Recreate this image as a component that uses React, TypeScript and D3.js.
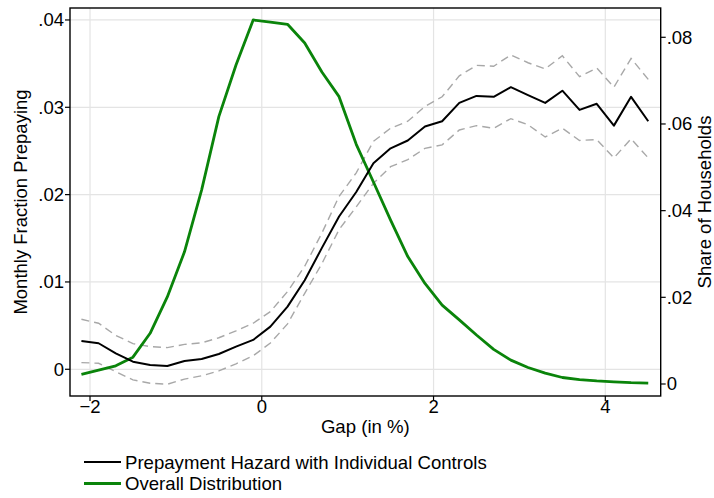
import * as d3 from "d3";

const gap = [
  -2.1, -1.9, -1.7, -1.5, -1.3, -1.1, -0.9, -0.7, -0.5, -0.3, -0.1, 0.1, 0.3,
  0.5, 0.7, 0.9, 1.1, 1.3, 1.5, 1.7, 1.9, 2.1, 2.3, 2.5, 2.7, 2.9, 3.1, 3.3,
  3.5, 3.7, 3.9, 4.1, 4.3, 4.5,
];

// monthly fraction prepaying (left axis)
const hazard = [
  0.00324, 0.00298, 0.00183, 0.00087, 0.00049, 0.00038, 0.00095, 0.00118,
  0.00175, 0.00259, 0.00336, 0.00488, 0.00717, 0.0102, 0.0139, 0.0175, 0.0203,
  0.0236, 0.0253, 0.0262, 0.0278, 0.0284, 0.0305, 0.0313, 0.0312, 0.0323,
  0.0314, 0.0305, 0.0319, 0.0297, 0.0304, 0.0279, 0.0312, 0.0284,
];
const upper = [
  0.00573, 0.00527, 0.00388, 0.00294, 0.00259, 0.00248, 0.00285, 0.00303,
  0.00361, 0.0044, 0.00527, 0.0066, 0.0089, 0.0118, 0.0156, 0.0198, 0.0225,
  0.0261, 0.0276, 0.0284, 0.0301, 0.0312, 0.0336, 0.0348, 0.0347, 0.036,
  0.0351, 0.0344, 0.0359, 0.0335, 0.0345, 0.0323, 0.0356, 0.0332,
];
const lower = [
  0.00076, 0.00069, -0.00027, -0.00122, -0.0016, -0.00172, -0.00112, -0.00075,
  -0.00018, 0.00062, 0.00155, 0.003, 0.0052, 0.0087, 0.0121, 0.016, 0.0186,
  0.0213, 0.0232, 0.024, 0.0253, 0.0257, 0.0274, 0.0279, 0.0276, 0.0287,
  0.028, 0.0266, 0.0276, 0.0262, 0.0263, 0.0242, 0.0264, 0.0242,
];

// share of households (right axis)
const share = [
  0.0022, 0.0032, 0.0042, 0.0062, 0.0117, 0.0201, 0.0305, 0.0448, 0.0617,
  0.0736, 0.084, 0.0835, 0.083, 0.0787, 0.072, 0.0663, 0.0553, 0.0466, 0.0378,
  0.0294, 0.0232, 0.0182, 0.0148, 0.0113, 0.008, 0.0055, 0.0038, 0.0025,
  0.0015, 0.001, 0.0007, 0.0005, 0.0003, 0.0002,
];

const xTicks = [-2, 0, 2, 4];
const xTickLabels = ["\u22122", "0", "2", "4"];
const leftTicks = [0, 0.01, 0.02, 0.03, 0.04];
const leftTickLabels = ["0", ".01", ".02", ".03", ".04"];
const rightTicks = [0, 0.02, 0.04, 0.06, 0.08];
const rightTickLabels = ["0", ".02", ".04", ".06", ".08"];

const legendItems = [
  { label: "Prepayment Hazard with Individual Controls", color: "#000" },
  { label: "Overall Distribution", color: "#0a840a" },
];

const W = 714;
const H = 498;
const left = 70;
const right = 660.7;
const top = 8;
const bottom = 396;
const font = "'Liberation Sans', Arial, Helvetica, sans-serif";

export default function App() {
  const x = d3.scaleLinear().domain([-2.233, 4.645]).range([left, right]);
  const yL = d3.scaleLinear().domain([-0.00306, 0.04137]).range([bottom, top]);
  const yR = d3.scaleLinear().domain([-0.00277, 0.08676]).range([bottom, top]);

  const lineL = (vals: number[]) =>
    d3
      .line<number>()
      .x((_, i) => x(gap[i]))
      .y((d) => yL(d))(vals) || "";
  const lineR = d3
    .line<number>()
    .x((_, i) => x(gap[i]))
    .y((d) => yR(d))(share) || "";

  return (
    <svg
      width={W}
      height={H}
      style={{ position: "absolute", left: 0, top: 0, background: "#fff" }}
      fontFamily={font}
    >
      <rect x={0} y={0} width={W} height={H} fill="#fff" />
      {/* grid */}
      {xTicks.map((t) => (
        <line key={"gx" + t} x1={x(t)} x2={x(t)} y1={top} y2={bottom} stroke="#e4e4e4" strokeWidth={1.2} />
      ))}
      {leftTicks.map((t) => (
        <line key={"gy" + t} x1={left} x2={right} y1={yL(t)} y2={yL(t)} stroke="#e4e4e4" strokeWidth={1.2} />
      ))}

      {/* confidence band */}
      {[upper, lower].map((vals, k) => (
        <path key={"ci" + k} d={lineL(vals)} fill="none" stroke="#a8a8a8" strokeWidth={1.4} strokeDasharray="8,5" />
      ))}
      <path d={lineR} fill="none" stroke="#0a840a" strokeWidth={2.8} strokeLinejoin="round" />
      <path d={lineL(hazard)} fill="none" stroke="#000" strokeWidth={2} strokeLinejoin="round" />

      {/* frame */}
      <rect x={left} y={top} width={right - left} height={bottom - top} fill="none" stroke="#000" strokeWidth={1.4} />

      {/* x axis */}
      {xTicks.map((t, i) => (
        <g key={"xt" + t}>
          <line x1={x(t)} x2={x(t)} y1={bottom} y2={bottom + 5} stroke="#000" strokeWidth={1.2} />
          <text x={x(t)} y={413} textAnchor="middle" fontSize={18.5}>
            {xTickLabels[i]}
          </text>
        </g>
      ))}
      <text x={(left + right) / 2} y={433} textAnchor="middle" fontSize={18.6}>
        Gap (in %)
      </text>

      {/* left axis */}
      {leftTicks.map((t, i) => (
        <g key={"lt" + t}>
          <line x1={left - 5} x2={left} y1={yL(t)} y2={yL(t)} stroke="#000" strokeWidth={1.2} />
          <text x={left - 6} y={yL(t) + 6.5} textAnchor="end" fontSize={18.5}>
            {leftTickLabels[i]}
          </text>
        </g>
      ))}
      <text transform={`translate(27,${(top + bottom) / 2}) rotate(-90)`} textAnchor="middle" fontSize={18.5}>
        Monthly Fraction Prepaying
      </text>

      {/* right axis */}
      {rightTicks.map((t, i) => (
        <g key={"rt" + t}>
          <line x1={right} x2={right + 5} y1={yR(t)} y2={yR(t)} stroke="#000" strokeWidth={1.2} />
          <text x={right + 6} y={yR(t) + 6.5} textAnchor="start" fontSize={18.5}>
            {rightTickLabels[i]}
          </text>
        </g>
      ))}
      <text transform={`translate(711,${(top + bottom) / 2}) rotate(-90)`} textAnchor="middle" fontSize={18.5}>
        Share of Households
      </text>

      {/* legend */}
      {legendItems.map((d, i) => (
        <g key={d.label} transform={`translate(0,${462 + i * 21.5})`}>
          <line x1={84} x2={121} y1={0} y2={0} stroke={d.color} strokeWidth={i === 0 ? 2 : 2.8} />
          <text x={125} y={6.5} fontSize={18.6}>
            {d.label}
          </text>
        </g>
      ))}
    </svg>
  );
}
